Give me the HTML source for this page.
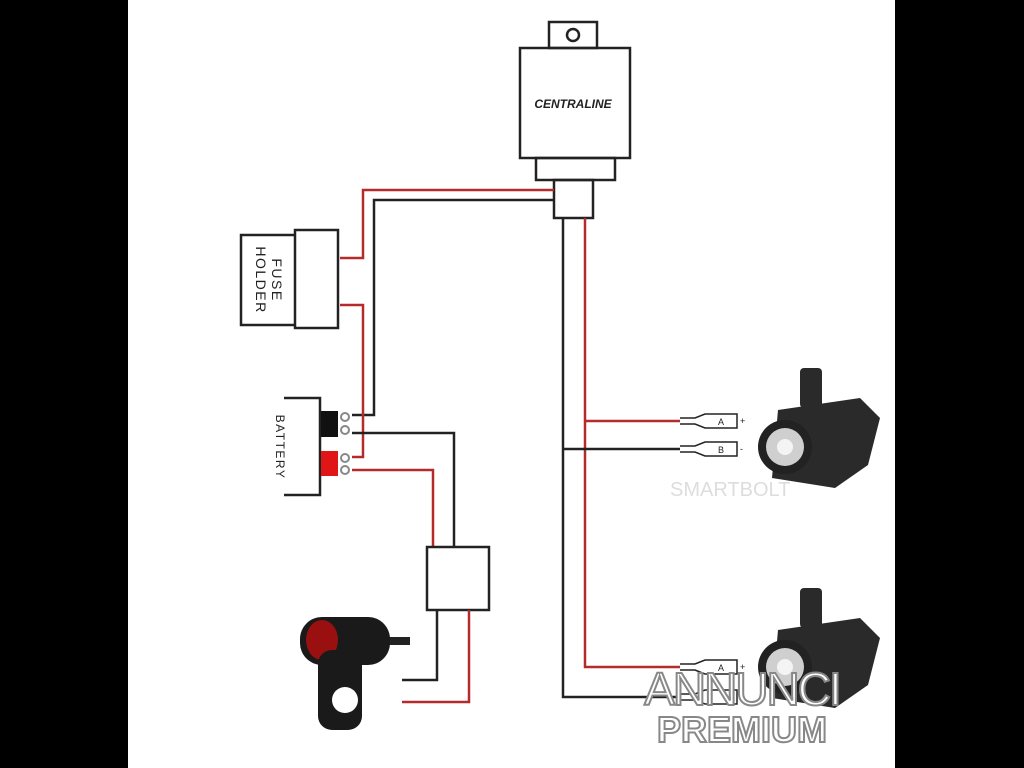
<!DOCTYPE html>
<html><head><meta charset="utf-8"><style>
html,body{margin:0;padding:0;background:#000;}
svg{display:block}
</style></head><body>
<svg width="1024" height="768" viewBox="0 0 1024 768" xmlns="http://www.w3.org/2000/svg" font-family="Liberation Sans, sans-serif">
<rect x="0" y="0" width="1024" height="768" fill="#000"/>
<rect x="128" y="0" width="767" height="768" fill="#fff"/>
<g fill="none" stroke-width="2.5">
<rect x="549" y="22" width="48" height="26" stroke="#222"/>
<circle cx="573" cy="35" r="6" stroke="#222"/>
<rect x="520" y="48" width="110" height="110" stroke="#222"/>
<rect x="536" y="158" width="79" height="22" stroke="#222"/>
<rect x="554" y="180" width="39" height="38" stroke="#222"/>
<polyline points="554,190 363,190 363,258 340,258" stroke="#b52a2a"/>
<polyline points="554,200 374,200 374,415 352,415" stroke="#222"/>
<polyline points="340,305 363,305 363,457 352,457" stroke="#b52a2a"/>
<polyline points="352,433 454,433 454,547" stroke="#222"/>
<polyline points="352,470 433,470 433,547" stroke="#b52a2a"/>
<rect x="241" y="235" width="55" height="90" stroke="#222"/>
<rect x="295" y="230" width="43" height="98" stroke="#222" fill="#fff"/>
<polyline points="284,398 320,398 320,495 284,495" stroke="#222"/>
<rect x="427" y="547" width="62" height="63" stroke="#222"/>
<polyline points="437,610 437,680 402,680" stroke="#222"/>
<polyline points="469,610 469,702 402,702" stroke="#b52a2a"/>
<polyline points="563,218 563,697 680,697" stroke="#222"/>
<polyline points="585,218 585,667 680,667" stroke="#b52a2a"/>
<line x1="585" y1="421" x2="680" y2="421" stroke="#b52a2a"/>
<line x1="563" y1="449" x2="680" y2="449" stroke="#222"/>
</g>
<text x="573" y="108" text-anchor="middle" font-size="12" font-weight="bold" font-style="italic" fill="#222">CENTRALINE</text>
<text transform="translate(272,280) rotate(90)" text-anchor="middle" font-size="14" fill="#222" letter-spacing="1.5">FUSE</text>
<text transform="translate(256,280) rotate(90)" text-anchor="middle" font-size="14" fill="#222" letter-spacing="1.5">HOLDER</text>
<text transform="translate(276,447) rotate(90)" text-anchor="middle" font-size="12" fill="#222" letter-spacing="1.5">BATTERY</text>
<rect x="321" y="411" width="17" height="26" fill="#111"/>
<rect x="321" y="451" width="17" height="25" fill="#e01515"/>
<g fill="none" stroke="#888" stroke-width="2">
<circle cx="345" cy="417" r="4"/><circle cx="345" cy="430" r="4"/>
<circle cx="345" cy="458" r="4"/><circle cx="345" cy="470" r="4"/>
</g>
<g fill="none" stroke="#222" stroke-width="1.5">
<path d="M680,418 L695,418 L705,414 L737,414 L737,428 L705,428 L695,424 L680,424"/>
<path d="M680,446 L695,446 L705,442 L737,442 L737,456 L705,456 L695,452 L680,452"/>
<path d="M680,664 L695,664 L705,660 L737,660 L737,674 L705,674 L695,670 L680,670"/>
<path d="M680,694 L695,694 L705,690 L737,690 L737,704 L705,704 L695,700 L680,700"/>
</g>
<g font-size="9" fill="#222"><text x="718" y="425">A</text><text x="740" y="424">+</text><text x="718" y="453">B</text><text x="740" y="452">-</text>
<text x="718" y="671">A</text><text x="740" y="670">+</text></g>
<g>
<rect x="800" y="368" width="22" height="40" rx="4" fill="#2a2a2a"/>
<path d="M778,410 L860,398 L880,418 L868,465 L835,488 L772,478 Z" fill="#2a2a2a"/>
<circle cx="785" cy="447" r="27" fill="#222"/><circle cx="785" cy="447" r="19" fill="#cfcfcf"/><circle cx="785" cy="447" r="8" fill="#f4f4f4"/>
<text x="670" y="496" font-size="20" fill="#ddd">SMARTBOLT</text>
<rect x="800" y="588" width="22" height="40" rx="4" fill="#2a2a2a"/>
<path d="M778,630 L860,618 L880,638 L868,685 L835,708 L772,698 Z" fill="#2a2a2a"/>
<circle cx="785" cy="667" r="27" fill="#222"/><circle cx="785" cy="667" r="19" fill="#cfcfcf"/><circle cx="785" cy="667" r="8" fill="#f4f4f4"/>
</g>
<g>
<rect x="385" y="637" width="25" height="8" fill="#222"/>
<rect x="300" y="617" width="90" height="48" rx="22" fill="#1a1a1a"/>
<ellipse cx="322" cy="640" rx="16" ry="20" fill="#9a1010"/>
<rect x="318" y="650" width="44" height="80" rx="14" fill="#1a1a1a"/>
<circle cx="345" cy="700" r="13" fill="#fff"/>
</g>
<text x="742" y="705" text-anchor="middle" font-size="46" fill="#fff" stroke="#888" stroke-width="2" letter-spacing="-2">ANNUNCI</text>
<text x="742" y="742" text-anchor="middle" font-size="36" font-weight="bold" fill="#fff" stroke="#888" stroke-width="2">PREMIUM</text>
</svg>
</body></html>
